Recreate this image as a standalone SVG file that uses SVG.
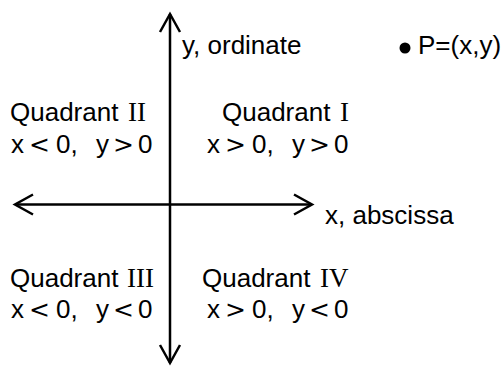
<svg xmlns="http://www.w3.org/2000/svg" width="503" height="366" viewBox="0 0 503 366">
<style>
.t{font-family:"Liberation Sans",Arial,sans-serif;font-size:26px;fill:#000}
.r{font-family:"Liberation Serif","Times New Roman",serif;font-size:27px;fill:#000}
.s{font-family:"DejaVu Sans",sans-serif;font-size:25px;fill:#000}
.ax{stroke:#000;stroke-width:2.5;fill:none}
</style>
<defs>
<marker id="ch" markerUnits="userSpaceOnUse" orient="auto-start-reverse" markerWidth="26" markerHeight="26" viewBox="-22 -13 26 26" refX="0" refY="0">
<path d="M-18,-10 L0,0 L-18,10" fill="none" stroke="#000" stroke-width="2.5" stroke-linejoin="miter"/>
</marker>
</defs>
<rect width="503" height="366" fill="#fff"/>
<g id="connectors">
<line class="ax" x1="170" y1="363" x2="170" y2="14" marker-start="url(#ch)" marker-end="url(#ch)"/>
<line class="ax" x1="15" y1="204.5" x2="312" y2="204.5" marker-start="url(#ch)" marker-end="url(#ch)"/>
</g>
<g id="y-label"><text class="t" x="182" y="54">y, ordinate</text></g>
<g id="x-label"><text class="t" x="325" y="224">x, abscissa</text></g>
<g id="point"><circle cx="405" cy="48" r="5.5" fill="#000"/><text class="t" x="418" y="54">P=(x,y)</text></g>
<g id="q2">
<text class="t" x="10" y="121">Quadrant</text><text class="r" x="128" y="121">II</text>
<text class="t" x="11" y="153">x</text><text class="s" x="29" y="153">&lt;</text><text class="t" x="56" y="153">0,</text><text class="t" x="96" y="153">y</text><text class="s" x="113" y="153">&gt;</text><text class="t" x="138" y="153">0</text>
</g>
<g id="q1">
<text class="t" x="222" y="121">Quadrant</text><text class="r" x="340" y="121">I</text>
<text class="t" x="207" y="153">x</text><text class="s" x="225" y="153">&gt;</text><text class="t" x="252" y="153">0,</text><text class="t" x="292" y="153">y</text><text class="s" x="309" y="153">&gt;</text><text class="t" x="334" y="153">0</text>
</g>
<g id="q3">
<text class="t" x="10" y="287">Quadrant</text><text class="r" x="127" y="287">III</text>
<text class="t" x="11" y="318">x</text><text class="s" x="29" y="318">&lt;</text><text class="t" x="56" y="318">0,</text><text class="t" x="96" y="318">y</text><text class="s" x="113" y="318">&lt;</text><text class="t" x="138" y="318">0</text>
</g>
<g id="q4">
<text class="t" x="202" y="287">Quadrant</text><text class="r" x="320" y="287">IV</text>
<text class="t" x="207" y="318">x</text><text class="s" x="225" y="318">&gt;</text><text class="t" x="252" y="318">0,</text><text class="t" x="292" y="318">y</text><text class="s" x="309" y="318">&lt;</text><text class="t" x="334" y="318">0</text>
</g>
</svg>
